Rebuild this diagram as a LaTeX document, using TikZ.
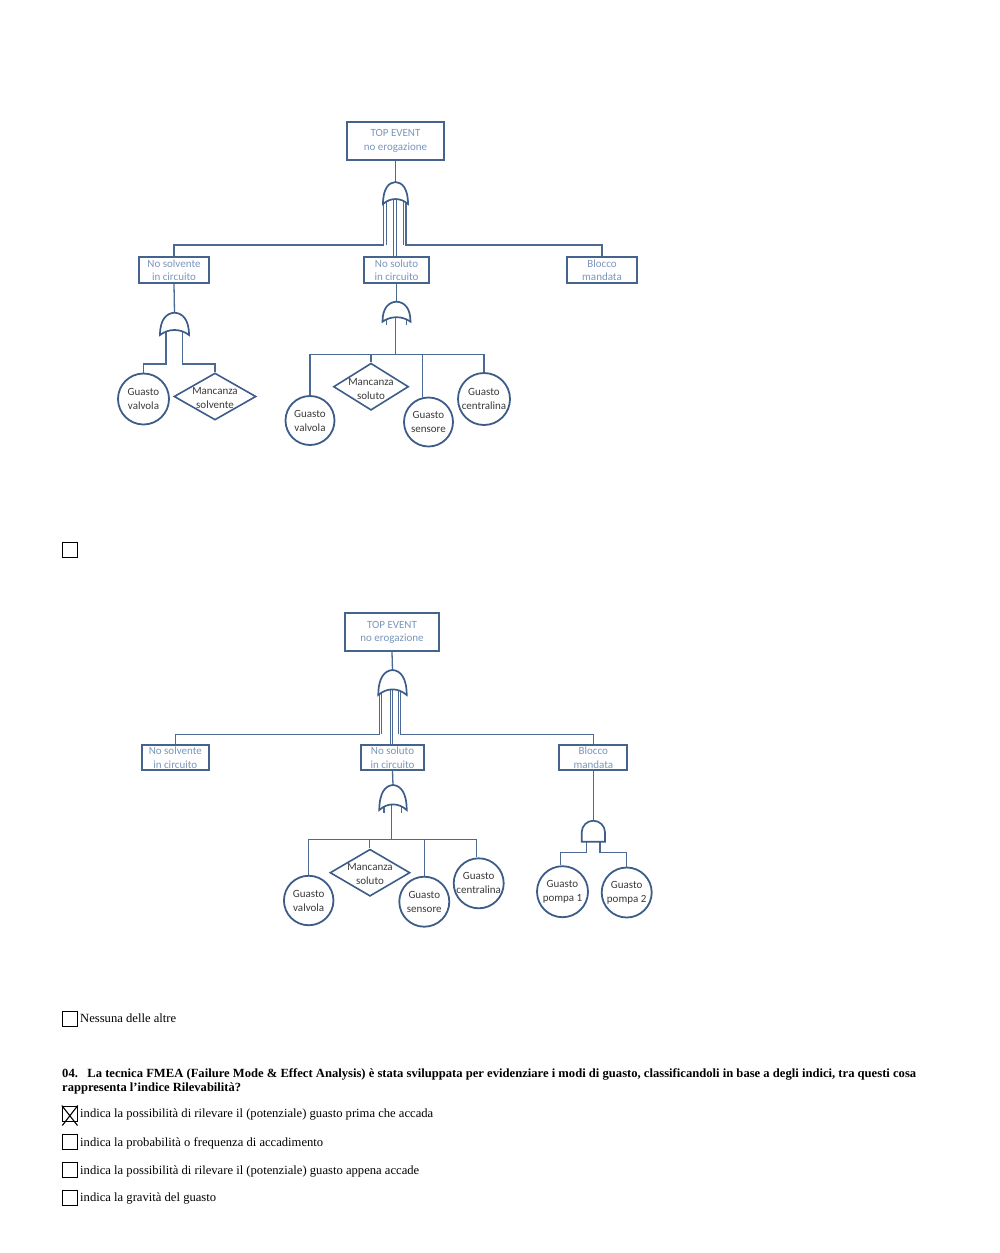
\documentclass[tikz,border=0pt]{standalone}
\usepackage{fontspec}
\usepackage{graphicx}
\setmainfont{Liberation Serif}
\newfontfamily\dfont{Carlito}
\usetikzlibrary{shapes.geometric}
\definecolor{boxc}{HTML}{44648E}
\definecolor{boxt}{HTML}{7A96BC}
\definecolor{evc}{HTML}{3D5D88}
\definecolor{evt}{HTML}{3A3A3A}
\definecolor{linec}{HTML}{4A6A93}
\newcommand\orgate[4]{% xc, ytop, halfwidth, height
  \draw[gate] ({#1-#3},{#2+#4})
    .. controls ({#1-#3},{#2+0.3*#4}) and ({#1-0.55*#3},{#2+0.02*#4}) .. (#1,#2)
    .. controls ({#1+0.55*#3},{#2+0.02*#4}) and ({#1+#3},{#2+0.3*#4}) .. ({#1+#3},{#2+#4})
    .. controls ({#1+0.4*#3},{#2+0.7*#4}) and ({#1-0.4*#3},{#2+0.7*#4}) .. ({#1-#3},{#2+#4}) -- cycle;
}
\newcommand\andgate[4]{% xc, ytop, halfwidth, height
  \draw[gate] ({#1-#3},{#2+#4}) -- ({#1-#3},{#2+#3})
    .. controls ({#1-#3},{#2+0.448*#3}) and ({#1-0.552*#3},#2) .. (#1,#2)
    .. controls ({#1+0.552*#3},#2) and ({#1+#3},{#2+0.448*#3}) .. ({#1+#3},{#2+#3})
    -- ({#1+#3},{#2+#4}) -- cycle;
}
\begin{document}
\begin{tikzpicture}[x=1pt,y=-1pt,
  box/.style={draw=boxc, line width=1.8pt, text=boxt, font=\dfont\fontsize{11}{13.5}\selectfont, align=center, inner sep=0pt},
  ev/.style={circle, draw=evc, line width=1.8pt, text=evt, font=\dfont\fontsize{11}{14}\selectfont, align=center, inner sep=0pt},
  dia/.style={diamond, draw=evc, line width=1.6pt, inner sep=0pt},
  dtxt/.style={text=evt, font=\dfont\fontsize{11}{14}\selectfont, align=center, inner sep=0pt},
  conn/.style={draw=linec, line width=1.3pt},
  gate/.style={draw=evc, line width=1.7pt, fill=white},
  cbox/.style={draw=black, line width=1pt, minimum size=15pt, inner sep=0pt},
  qtxt/.style={anchor=base west, inner sep=0pt, font=\fontsize{12.5}{14}\selectfont},
  qbold/.style={anchor=base west, inner sep=0pt, font=\bfseries\fontsize{12.5}{14}\selectfont},
]
\useasboundingbox[fill=white] (0,0) rectangle (1000,1253);

% ================= first tree =================
\node[box, minimum width=97pt, minimum height=38pt] (T0) at (395.5,141) {TOP EVENT\\no erogazione};
\node[box, minimum width=70pt, minimum height=26pt] (T1) at (174,270) {No solvente\\in circuito};
\node[box, minimum width=65pt, minimum height=26pt] (T2) at (396.5,270) {No soluto\\in circuito};
\node[box, minimum width=70pt, minimum height=26pt] (T3) at (602,270) {Blocco\\mandata};

\node[ev, minimum size=51pt] (E1) at (143.5,399) {Guasto\\valvola};
\node[dia, minimum width=82pt, minimum height=47pt] (D1) at (215,396.5) {};
\node[dtxt] (D1t) at ([yshift=-2pt]D1.center) {Mancanza\\solvente};

\node[ev, minimum size=49pt] (E2) at (310,420.5) {Guasto\\valvola};
\node[dia, minimum width=75pt, minimum height=47pt] (D2) at (371,386.7) {};
\node[dtxt] (D2t) at ([yshift=-2pt]D2.center) {Mancanza\\soluto};
\node[ev, minimum size=49pt] (E3) at (428.5,422) {Guasto\\sensore};
\node[ev, minimum size=52pt] (E4) at (484,399) {Guasto\\centralina};

% gate anchor points
\coordinate (G1t) at (395.5,182);
\coordinate (G1a) at (383.8,200);
\coordinate (G1b) at (393.8,198);
\coordinate (G1c) at (403.5,199);
\coordinate (G2t) at (174.5,312.7);
\coordinate (G2a) at (166,330);
\coordinate (G2b) at (182.7,330);
\coordinate (G3t) at (396.5,301.7);
\coordinate (G3c) at (395.5,316);
\coordinate (B1) at (395.5,354.3);

% connectors
\draw[conn] (T0.south) -- (G1t);
\draw[conn] (G1a) -- ++(0,45) -| (T1.north);
\draw[conn] ([xshift=2.4pt]G1a) -- ++(0,45);
\draw[conn] (G1b) -- (G1b |- T2.north);
\draw[conn] ([xshift=2.6pt]G1b) -- ([xshift=2.6pt]G1b |- T2.north);
\draw[conn] ([xshift=2.5pt]G1c) -- ++(0,46) -| (T3.north);
\draw[conn] (G1c) -- ++(0,46);

\draw[conn] (T1.south) -- (G2t);
\draw[conn] (G2a) -- ++(0,34) -| (E1.north);
\draw[conn] (G2b) -- ++(0,34) -| (D1.north);

\draw[conn] (T2.south) -- (G3t);
\draw[conn] (386.5,318) -- (386.5,325);
\draw[conn] (406.5,318) -- (406.5,325);
\draw[conn] (G3c) -- (B1);
\draw[conn] (E2.north) |- (E4.north |- B1) -- (E4.north);
\draw[conn] (D2.north) -- (D2.north |- B1);
\draw[conn] ([xshift=-5.8pt]E3.north) -- ([xshift=-5.8pt]E3.north |- B1);

% gates
\orgate{395.5}{182}{12.5}{22}
\orgate{174.5}{312.7}{14.5}{22.3}
\orgate{396.5}{301.7}{14}{20}

% ================= checkbox 1 =================
\node[cbox] (C1) at (69.8,550.3) {};

% ================= second tree =================
\node[box, minimum width=94pt, minimum height=38pt] (S0) at (392,632.2) {TOP EVENT\\no erogazione};
\node[box, minimum width=67pt, minimum height=25pt] (S1) at (175.3,757.5) {No solvente\\in circuito};
\node[box, minimum width=63pt, minimum height=25pt] (S2) at (392.5,757.5) {No soluto\\in circuito};
\node[box, minimum width=68pt, minimum height=25pt] (S3) at (593.3,757.5) {Blocco\\mandata};

\node[ev, minimum size=49.5pt] (F1) at (308.7,900.5) {Guasto\\valvola};
\node[dia, minimum width=80pt, minimum height=47pt] (D3) at (370,872.7) {};
\node[dtxt] (D3t) at ([yshift=-1.5pt]D3.center) {Mancanza\\soluto};
\node[ev, minimum size=50pt] (F2) at (424.3,901.7) {Guasto\\sensore};
\node[ev, minimum size=50pt] (F3) at (478.7,883.3) {Guasto\\centralina};
\node[ev, minimum size=51pt] (F4) at (562.5,891.7) {Guasto\\pompa 1};
\node[ev, minimum size=50pt] (F5) at (626.7,892.5) {Guasto\\pompa 2};

\coordinate (G4t) at (392.5,670);
\coordinate (G4a) at (379.4,690);
\coordinate (G4b) at (390.2,688);
\coordinate (G4c) at (398.3,689);
\coordinate (G5t) at (393,785);
\coordinate (G5c) at (391.7,805);
\coordinate (B2) at (391.7,839.3);
\coordinate (G6t) at (593.3,820.7);
\coordinate (G6a) at (586.7,841);
\coordinate (G6b) at (600,841);

\draw[conn] (S0.south) -- (G4t);
\draw[conn] (G4a) -- ++(0,44.3) -| (S1.north);
\draw[conn] ([xshift=2.4pt]G4a) -- ++(0,44.3);
\draw[conn] (G4b) -- (G4b |- S2.north);
\draw[conn] ([xshift=2.6pt]G4b) -- ([xshift=2.6pt]G4b |- S2.north);
\draw[conn] ([xshift=2.4pt]G4c) -- ++(0,45.3) -| (S3.north);
\draw[conn] (G4c) -- ++(0,45.3);

\draw[conn] (S2.south) -- (G5t);
\draw[conn] (384,806) -- (384,813);
\draw[conn] (401.7,806) -- (401.7,813);
\draw[conn] (G5c) -- (B2);
\draw[conn] (F1.north) |- ([xshift=-2pt]F3.north |- B2) -- ([xshift=-2pt]F3.north);
\draw[conn] ([xshift=-0.7pt]D3.north) -- ([xshift=-0.7pt]D3.north |- B2);
\draw[conn] (F2.north) -- (F2.north |- B2);

\draw[conn] (S3.south) -- (G6t);
\draw[conn] (G6a) -- ++(0,11.7) -| ([xshift=-1.8pt]F4.north);
\draw[conn] (G6b) -- ++(0,11.7) -| (F5.north);

\orgate{392.5}{670}{14.2}{25}
\orgate{393}{785}{13.7}{25}
\andgate{593.35}{820.7}{11.65}{21}

% ================= question section =================
\node[cbox] (C2) at (69.8,1018.5) {};
\node[qtxt] (N1) at (80,1022.5) {\resizebox{96pt}{\height}{Nessuna delle altre}};

\node[qbold] (Q1) at (62,1077) {\resizebox{854pt}{\height}{04.\ \ \ La tecnica FMEA (Failure Mode \& Effect Analysis) è stata sviluppata per evidenziare i modi di guasto, classificandoli in base a degli indici, tra questi cosa}};
\node[qbold] (Q2) at (62,1091) {\resizebox{179pt}{\height}{rappresenta l'indice Rilevabilità?}};

\node[cbox] (C3) at (69.8,1113.5) {};
\draw[line width=1.1pt] (C3.north west) -- (77.5,1125.5);
\draw[line width=1.1pt] (C3.north east) -- (62.3,1125.5);
\node[qtxt] (O1) at (80,1117.5) {\resizebox{353pt}{\height}{indica la possibilità di rilevare il (potenziale) guasto prima che accada}};

\node[cbox] (C4) at (69.8,1142.3) {};
\node[qtxt] (O2) at (80,1146) {\resizebox{243pt}{\height}{indica la probabilità o frequenza di accadimento}};

\node[cbox] (C5) at (69.8,1170.3) {};
\node[qtxt] (O3) at (80,1174) {\resizebox{339pt}{\height}{indica la possibilità di rilevare il (potenziale) guasto appena accade}};

\node[cbox] (C6) at (69.8,1197.5) {};
\node[qtxt] (O4) at (80,1201) {\resizebox{136pt}{\height}{indica la gravità del guasto}};
\end{tikzpicture}
\end{document}
